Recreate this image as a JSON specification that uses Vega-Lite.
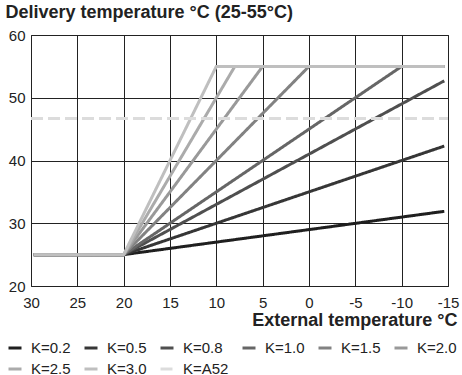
{
  "$schema": "https://vega.github.io/schema/vega-lite/v6.json",
  "width": 417,
  "height": 251,
  "autosize": "none",
  "padding": {"left": 31, "top": 35, "right": 14, "bottom": 89},
  "background": "white",
  "config": {
    "font": "Liberation Sans",
    "view": {"stroke": "#222", "strokeWidth": 1},
    "axis": {"gridColor": "#222", "gridOpacity": 1, "gridWidth": 1, "domain": false, "ticks": false, "tickSize": 0, "labelFont": "Liberation Sans", "labelFontSize": 15, "labelColor": "#222", "titleFont": "Liberation Sans", "titleFontSize": 18, "titleFontWeight": "bold", "titleColor": "#222"}
  },
  "data": {"values": [
    {"K": "K=0.2", "x": 29.7, "y": 25}, {"K": "K=0.2", "x": 20, "y": 25}, {"K": "K=0.2", "x": -14.6, "y": 31.9},
    {"K": "K=0.5", "x": 29.7, "y": 25}, {"K": "K=0.5", "x": 20, "y": 25}, {"K": "K=0.5", "x": -14.6, "y": 42.3},
    {"K": "K=0.8", "x": 29.7, "y": 25}, {"K": "K=0.8", "x": 20, "y": 25}, {"K": "K=0.8", "x": -14.6, "y": 52.7},
    {"K": "K=1.0", "x": 29.7, "y": 25}, {"K": "K=1.0", "x": 20, "y": 25}, {"K": "K=1.0", "x": -10, "y": 55}, {"K": "K=1.0", "x": -14.6, "y": 55},
    {"K": "K=1.5", "x": 29.7, "y": 25}, {"K": "K=1.5", "x": 20, "y": 25}, {"K": "K=1.5", "x": 0, "y": 55}, {"K": "K=1.5", "x": -14.6, "y": 55},
    {"K": "K=2.0", "x": 29.7, "y": 25}, {"K": "K=2.0", "x": 20, "y": 25}, {"K": "K=2.0", "x": 5, "y": 55}, {"K": "K=2.0", "x": -14.6, "y": 55},
    {"K": "K=2.5", "x": 29.7, "y": 25}, {"K": "K=2.5", "x": 20, "y": 25}, {"K": "K=2.5", "x": 8, "y": 55}, {"K": "K=2.5", "x": -14.6, "y": 55},
    {"K": "K=3.0", "x": 29.7, "y": 25}, {"K": "K=3.0", "x": 20, "y": 25}, {"K": "K=3.0", "x": 10, "y": 55}, {"K": "K=3.0", "x": -14.6, "y": 55},
    {"K": "K=A52", "x": 30, "y": 46.7}, {"K": "K=A52", "x": -15, "y": 46.7}
  ]},
  "mark": {"type": "line", "strokeWidth": 3, "strokeCap": "butt", "clip": true},
  "encoding": {
    "x": {"field": "x", "type": "quantitative", "scale": {"domain": [30, -15], "nice": false, "zero": false},
      "axis": {"values": [30, 25, 20, 15, 10, 5, 0, -5, -10, -15], "labelExpr": "datum.value < 0 ? '-' + abs(datum.value) : '' + datum.value", "labelPadding": 9, "labelFlush": false, "title": "External temperature °C", "titleAnchor": "end", "titleAlign": "right", "titleBaseline": "alphabetic", "titleX": 426, "titleY": 39}},
    "y": {"field": "y", "type": "quantitative", "scale": {"domain": [20, 60], "nice": false, "zero": false},
      "axis": {"values": [20, 30, 40, 50, 60], "labelPadding": 6, "labelFlush": false, "title": "Delivery temperature °C (25-55°C)", "titleAngle": 0, "titleAlign": "left", "titleBaseline": "alphabetic", "titleX": -26, "titleY": -18}},
    "color": {"field": "K", "type": "nominal",
      "scale": {"domain": ["K=0.2", "K=0.5", "K=0.8", "K=1.0", "K=1.5", "K=2.0", "K=2.5", "K=3.0", "K=A52"],
        "range": ["#1f1f1f", "#363636", "#4f4f4f", "#666666", "#828282", "#999999", "#ababab", "#bfbfbf", "#dcdcdc"]},
      "legend": {"title": null, "orient": "none", "direction": "horizontal", "legendX": -24, "legendY": 305, "columns": 6, "symbolType": "stroke", "symbolSize": 169, "symbolStrokeWidth": 3, "labelOffset": 8, "labelFontSize": 15, "labelColor": "#222", "labelFont": "Liberation Sans", "columnPadding": 7, "rowPadding": 5, "padding": 0}},
    "strokeDash": {"field": "K", "type": "nominal",
      "scale": {"domain": ["K=0.2", "K=0.5", "K=0.8", "K=1.0", "K=1.5", "K=2.0", "K=2.5", "K=3.0", "K=A52"],
        "range": [[1, 0], [1, 0], [1, 0], [1, 0], [1, 0], [1, 0], [1, 0], [1, 0], [12, 5]]},
      "legend": {"title": null, "orient": "none", "direction": "horizontal", "legendX": -24, "legendY": 305, "columns": 6, "symbolType": "stroke", "symbolSize": 169, "symbolStrokeWidth": 3, "labelOffset": 8, "labelFontSize": 15, "labelColor": "#222", "labelFont": "Liberation Sans", "columnPadding": 7, "rowPadding": 5, "padding": 0, "symbolDash": [5, 3]}},
    "order": {"field": "x", "sort": "descending"}
  }
}
